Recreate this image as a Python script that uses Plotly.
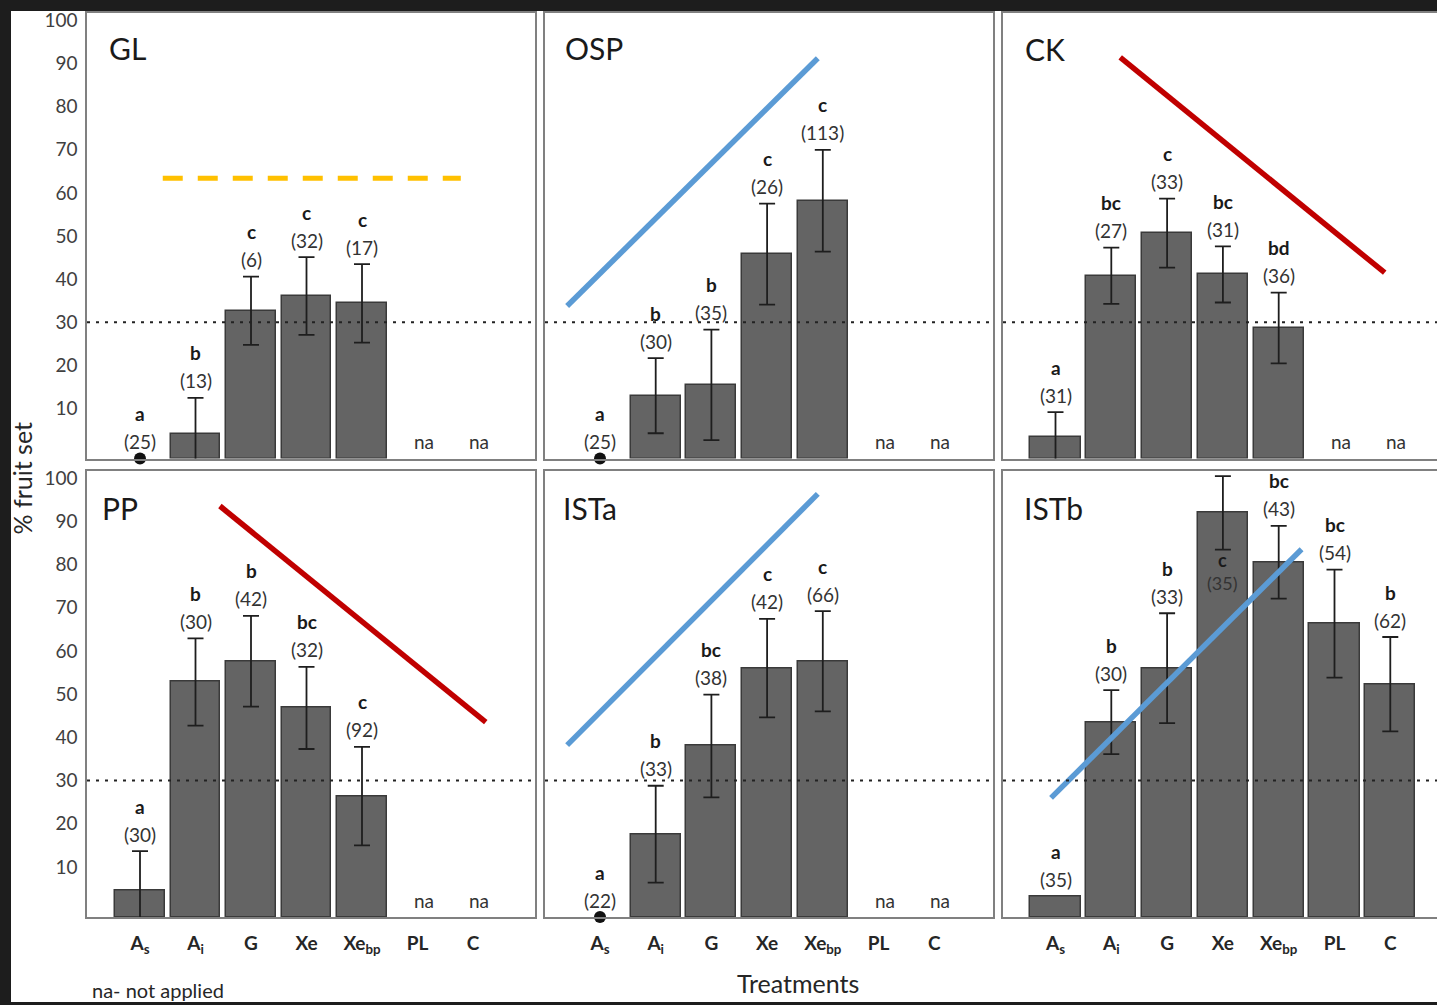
import plotly.graph_objects as go

# ---------------- data ----------------
CATEGORIES = ["A<sub>s</sub>", "A<sub>i</sub>", "G", "Xe", "Xe<sub>bp</sub>", "PL", "C"]
PANELS = ["GL", "OSP", "CK", "PP", "ISTa", "ISTb"]

# mean % fruit set (None = not applied)
GL_MEAN = [0, 4.2, 32.7, 36.1, 34.4, None, None]
GL_ERR = [0, 8.3, 7.9, 9.0, 9.1, None, None]
GL_LETTERS = ["a", "b", "c", "c", "c", None, None]
GL_N = ["25", "13", "6", "32", "17", None, None]

OSP_MEAN = [0, 13.0, 15.5, 45.8, 58.2, None, None]
OSP_ERR = [0, 8.7, 12.8, 11.7, 11.8, None, None]
OSP_LETTERS = ["a", "b", "b", "c", "c", None, None]
OSP_N = ["25", "30", "35", "26", "113", None, None]

CK_MEAN = [3.4, 40.8, 50.7, 41.1, 28.7, None, None]
CK_ERR = [5.8, 6.5, 8.0, 6.5, 8.2, None, None]
CK_LETTERS = ["a", "bc", "c", "bc", "bd", None, None]
CK_N = ["31", "27", "33", "31", "36", None, None]

PP_MEAN = [4.6, 52.8, 57.6, 46.8, 26.4, None, None]
PP_ERR = [9.1, 10.1, 10.5, 9.5, 11.4, None, None]
PP_LETTERS = ["a", "b", "b", "bc", "c", None, None]
PP_N = ["30", "30", "42", "32", "92", None, None]

ISTA_MEAN = [0, 17.6, 38.0, 56.0, 57.6, None, None]
ISTA_ERR = [0, 11.2, 11.9, 11.4, 11.6, None, None]
ISTA_LETTERS = ["a", "b", "bc", "c", "c", None, None]
ISTA_N = ["22", "33", "38", "42", "66", None, None]

ISTB_MEAN = [3.1, 43.5, 56.0, 91.9, 80.5, 66.3, 52.3]
ISTB_ERR = [0, 7.4, 12.7, 8.5, 8.4, 12.5, 10.9]
ISTB_LETTERS = ["a", "b", "b", "c", "bc", "bc", "b"]
ISTB_N = ["35", "30", "33", "35", "43", "54", "62"]
ISTB_LABEL_BELOW = [False, False, False, True, False, False, False]

# trend lines (x in category units, y in %)
GL_TREND_X = [1.41, 6.78]
GL_TREND_Y = [63.4, 63.4]
OSP_TREND_X = [0.41, 4.91]
OSP_TREND_Y = [33.8, 91.2]
CK_TREND_X = [2.16, 6.90]
CK_TREND_Y = [91.4, 41.5]
PP_TREND_X = [2.44, 7.23]
PP_TREND_Y = [93.5, 43.5]
ISTA_TREND_X = [0.41, 4.91]
ISTA_TREND_Y = [38.2, 96.3]
ISTB_TREND_X = [0.92, 5.41]
ISTB_TREND_Y = [26.0, 83.5]

THRESHOLD = 30
Y_TICKS = [10, 20, 30, 40, 50, 60, 70, 80, 90, 100]

# ---------------- styling / layout ----------------
W, H = 1437, 1005
FONT = "Lato"
YMIN, YMAX = -1.57, 101.7
BLUE, RED, GOLD = "#5B9BD5", "#C00000", "#FFC000"

COLS = [  # (left px, right px, centre of first category px, spacing px)
    (87, 535, 140.0, 55.5),
    (545, 993, 600.0, 55.7),
    (1003, 1437, 1055.5, 55.8),
]
ROWS = [(12, 458), (470, 917)]

panel_data = [
    (GL_MEAN, GL_ERR, GL_LETTERS, GL_N, GL_TREND_X, GL_TREND_Y, GOLD, "dash", None),
    (OSP_MEAN, OSP_ERR, OSP_LETTERS, OSP_N, OSP_TREND_X, OSP_TREND_Y, BLUE, "solid", None),
    (CK_MEAN, CK_ERR, CK_LETTERS, CK_N, CK_TREND_X, CK_TREND_Y, RED, "solid", None),
    (PP_MEAN, PP_ERR, PP_LETTERS, PP_N, PP_TREND_X, PP_TREND_Y, RED, "solid", None),
    (ISTA_MEAN, ISTA_ERR, ISTA_LETTERS, ISTA_N, ISTA_TREND_X, ISTA_TREND_Y, BLUE, "solid", None),
    (ISTB_MEAN, ISTB_ERR, ISTB_LETTERS, ISTB_N, ISTB_TREND_X, ISTB_TREND_Y, BLUE, "solid", ISTB_LABEL_BELOW),
]
TITLE_POS = [(107, 47), (563, 47), (1023, 48), (100, 507), (561, 507), (1022, 507)]


def px_x(p):
    return p / W


def px_y(p):
    # small compensation for vertical offset seen in the rendering
    p = p - 4.0 * (1 - p / H)
    return 1 - p / H


fig = go.Figure()
annotations = []
shapes = []
layout_axes = {}

for i, (mean, err, letters, ns, tx, ty, tcol, tdash, below) in enumerate(panel_data):
    k = i + 1
    row, col = divmod(i, 3)
    left, right, c1, sp = COLS[col]
    top, bottom = ROWS[row]
    xa = "x" if k == 1 else f"x{k}"
    ya = "y" if k == 1 else f"y{k}"
    xname = "xaxis" if k == 1 else f"xaxis{k}"
    yname = "yaxis" if k == 1 else f"yaxis{k}"

    xr = [1 - (c1 - left) / sp, 1 + (right - c1) / sp]
    layout_axes[xname] = dict(
        domain=[px_x(left), px_x(right)], range=xr, anchor=ya,
        showline=True, mirror=True, linecolor="#808080", linewidth=1.5,
        showgrid=False, zeroline=False,
        tickmode="array", tickvals=list(range(1, len(CATEGORIES) + 1)),
        ticktext=[f"<b>{c}</b>" for c in CATEGORIES],
        showticklabels=(row == 1), ticks="", ticklabelstandoff=8,
        tickfont=dict(family=FONT, size=19, color="#262626"),
    )
    layout_axes[yname] = dict(
        domain=[px_y(bottom), px_y(top)], range=[YMIN, YMAX], anchor=xa,
        showline=True, mirror=(col != 2), linecolor="#808080", linewidth=1.5,
        showgrid=False, zeroline=False,
        tickmode="array", tickvals=Y_TICKS, showticklabels=(col == 0),
        ticks="", ticklabelstandoff=4,
        tickfont=dict(family=FONT, size=19, color="#404040"),
    )

    # threshold dotted line
    shapes.append(dict(type="line", xref=f"{xa} domain", yref=ya, x0=0, x1=1,
                       y0=THRESHOLD, y1=THRESHOLD,
                       line=dict(color="#222", width=2, dash="3px,6px")))

    # bars (drawn from the horizontal axis)
    bx = [j + 1 for j, m in enumerate(mean) if m is not None and m > 0]
    by = [m - YMIN for m in mean if m is not None and m > 0]
    fig.add_trace(go.Bar(x=bx, y=by, base=YMIN, width=0.9, xaxis=xa, yaxis=ya,
                         marker=dict(color="#646464", line=dict(color="#3a3a3a", width=1.5)),
                         showlegend=False, hoverinfo="skip"))

    # error bars
    ex = [j + 1 for j, (m, e) in enumerate(zip(mean, err)) if m is not None and e]
    ey = [m for m, e in zip(mean, err) if m is not None and e]
    ee = [e for m, e in zip(mean, err) if m is not None and e]
    fig.add_trace(go.Scatter(x=ex, y=ey, mode="markers", xaxis=xa, yaxis=ya,
                             marker=dict(size=1, opacity=0),
                             error_y=dict(type="data", array=ee, visible=True,
                                          color="#1e1e1e", thickness=1.8, width=8),
                             cliponaxis=False, showlegend=False, hoverinfo="skip"))

    # zero-value points
    zx = [j + 1 for j, m in enumerate(mean) if m == 0]
    if zx:
        fig.add_trace(go.Scatter(x=zx, y=[YMIN] * len(zx), mode="markers", xaxis=xa, yaxis=ya,
                                 marker=dict(size=12, color="#111"),
                                 cliponaxis=False, showlegend=False, hoverinfo="skip"))

    # trend line
    fig.add_trace(go.Scatter(x=tx, y=ty, mode="lines", xaxis=xa, yaxis=ya,
                             line=dict(color=tcol, width=5.5 if tdash == "solid" else 5,
                                       dash="20px,15px" if tdash == "dash" else "solid"),
                             showlegend=False, hoverinfo="skip"))

    # labels
    for j, m in enumerate(mean):
        xj = j + 1
        if m is None:
            annotations.append(dict(x=xj, y=YMIN, xref=xa, yref=ya, text="na",
                                    showarrow=False, yanchor="middle", yshift=17, xshift=6,
                                    font=dict(family=FONT, size=19, color="#333")))
            continue
        e = err[j] or 0
        if below is not None and below[j]:
            yb = m - e
            s_letter, s_n = -10, -33
            lsize = 18
        else:
            yb = YMIN if m == 0 else m + e
            s_letter, s_n = 45, 17
            lsize = 19
        annotations.append(dict(x=xj, y=yb, xref=xa, yref=ya, text=f"({ns[j]})",
                                showarrow=False, yanchor="middle", yshift=s_n,
                                font=dict(family=FONT, size=lsize, color="#333")))
        annotations.append(dict(x=xj, y=yb, xref=xa, yref=ya, text=f"<b>{letters[j]}</b>",
                                showarrow=False, yanchor="middle", yshift=s_letter,
                                font=dict(family=FONT, size=lsize, color="#1a1a1a")))

    # panel title
    tx0, ty0 = TITLE_POS[i]
    annotations.append(dict(x=px_x(tx0), y=px_y(ty0), xref="paper", yref="paper",
                            text=PANELS[i], showarrow=False, xanchor="left", yanchor="middle",
                            font=dict(family=FONT, size=30, color="#1a1a1a")))

# global texts
annotations.append(dict(x=px_x(22), y=px_y(478), xref="paper", yref="paper",
                        text="% fruit set", textangle=-90, showarrow=False,
                        xanchor="center", yanchor="middle",
                        font=dict(family=FONT, size=25, color="#262626")))
annotations.append(dict(x=px_x(798), y=px_y(983), xref="paper", yref="paper",
                        text="Treatments", showarrow=False,
                        xanchor="center", yanchor="middle",
                        font=dict(family=FONT, size=25, color="#262626")))
annotations.append(dict(x=px_x(90), y=px_y(990), xref="paper", yref="paper",
                        text="na- not applied", showarrow=False,
                        xanchor="left", yanchor="middle",
                        font=dict(family=FONT, size=20, color="#262626")))

# white page on dark background
shapes.insert(0, dict(type="rect", xref="paper", yref="paper", layer="below",
                      x0=px_x(11), x1=1, y0=px_y(1002), y1=px_y(10),
                      fillcolor="white", line=dict(width=0)))

fig.update_layout(
    width=W, height=H, autosize=False,
    margin=dict(l=0, r=0, t=0, b=0),
    paper_bgcolor="#1d1d1d", plot_bgcolor="white",
    barmode="overlay", bargap=0,
    annotations=annotations, shapes=shapes,
    font=dict(family=FONT),
    **layout_axes,
)

fig.write_html("out.html", config={"displayModeBar": False},
               post_script="document.body.style.margin='0';")
